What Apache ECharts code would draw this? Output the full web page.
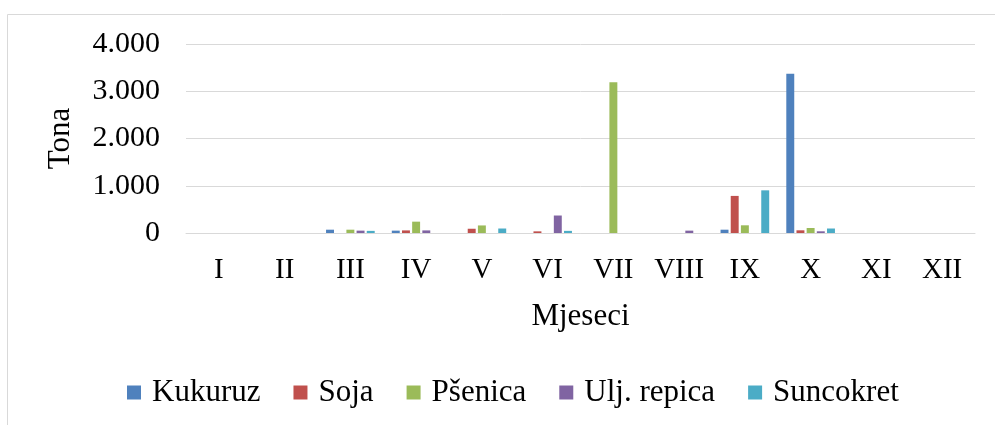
<!DOCTYPE html>
<html>
<head>
<meta charset="utf-8">
<script src="https://cdn.jsdelivr.net/npm/echarts@6/dist/echarts.min.js"></script>
<style>html,body{margin:0;padding:0;background:#fff}#c{width:995px;height:425px}</style>
</head>
<body>
<div id="c"></div>
<script>
var categories = ['I','II','III','IV','V','VI','VII','VIII','IX','X','XI','XII'];
var kukuruz   = [0, 0, 70, 50, 0, 0, 0, 0, 70, 3370, 0, 0];
var soja      = [0, 0, 0, 55, 90, 35, 0, 0, 785, 57, 0, 0];
var psenica   = [0, 0, 70, 240, 160, 0, 3190, 0, 163, 106, 0, 0];
var uljRepica = [0, 0, 50, 55, 0, 370, 0, 50, 0, 36, 0, 0];
var suncokret = [0, 0, 45, 0, 95, 45, 0, 0, 903, 95, 0, 0];
var seriesNames = ['Kukuruz','Soja','Pšenica','Ulj. repica','Suncokret'];
var seriesColors = ['#4f81bd','#c0504d','#9bbb59','#8064a2','#4bacc6'];
var seriesData = [kukuruz, soja, psenica, uljRepica, suncokret];
var yTicks = [0, 1000, 2000, 3000, 4000];

var FONT = '"Liberation Serif", "Times New Roman", serif';
var chart = echarts.init(document.getElementById('c'));
function fmt(v){ return String(v).replace(/\B(?=(\d{3})+(?!\d))/g, '.'); }

chart.setOption({
  animation: false,
  color: seriesColors,
  graphic: [{
    type: 'rect', left: 5, top: 12, silent: true,
    shape: { width: 1000, height: 500 },
    style: { fill: 'none', stroke: '#d9d9d9', lineWidth: 1 }
  }],
  grid: { left: 186, right: 20, top: 44, bottom: 192 },
  legend: {
    left: 122, top: 372,
    itemWidth: 14, itemHeight: 14, itemGap: 33,
    icon: 'rect',
    textStyle: { fontFamily: FONT, fontSize: 31, color: '#000', padding: [0,0,0,6] },
    data: seriesNames
  },
  xAxis: {
    type: 'category', data: categories,
    name: 'Mjeseci', nameLocation: 'middle', nameGap: 68,
    nameTextStyle: { fontFamily: FONT, fontSize: 31, color: '#000' },
    axisLine: { lineStyle: { color: '#d9d9d9', width: 1 } },
    axisTick: { show: false },
    axisLabel: { fontFamily: FONT, fontSize: 29, color: '#000', margin: 23 }
  },
  yAxis: {
    type: 'value', min: yTicks[0], max: yTicks[yTicks.length-1], interval: 1000,
    name: 'Tona', nameLocation: 'middle', nameGap: 110, nameRotate: 90,
    nameTextStyle: { fontFamily: FONT, fontSize: 31, color: '#000' },
    axisLine: { show: false }, axisTick: { show: false },
    splitLine: { lineStyle: { color: '#d9d9d9', width: 1 } },
    axisLabel: { fontFamily: FONT, fontSize: 30, color: '#000', margin: 26, formatter: fmt }
  },
  series: seriesNames.map(function(n, i){
    return { name: n, type: 'bar', data: seriesData[i], barGap: '28%', barCategoryGap: '26%',
      itemStyle: { color: seriesColors[i] } };
  })
});
</script>
</body>
</html>
